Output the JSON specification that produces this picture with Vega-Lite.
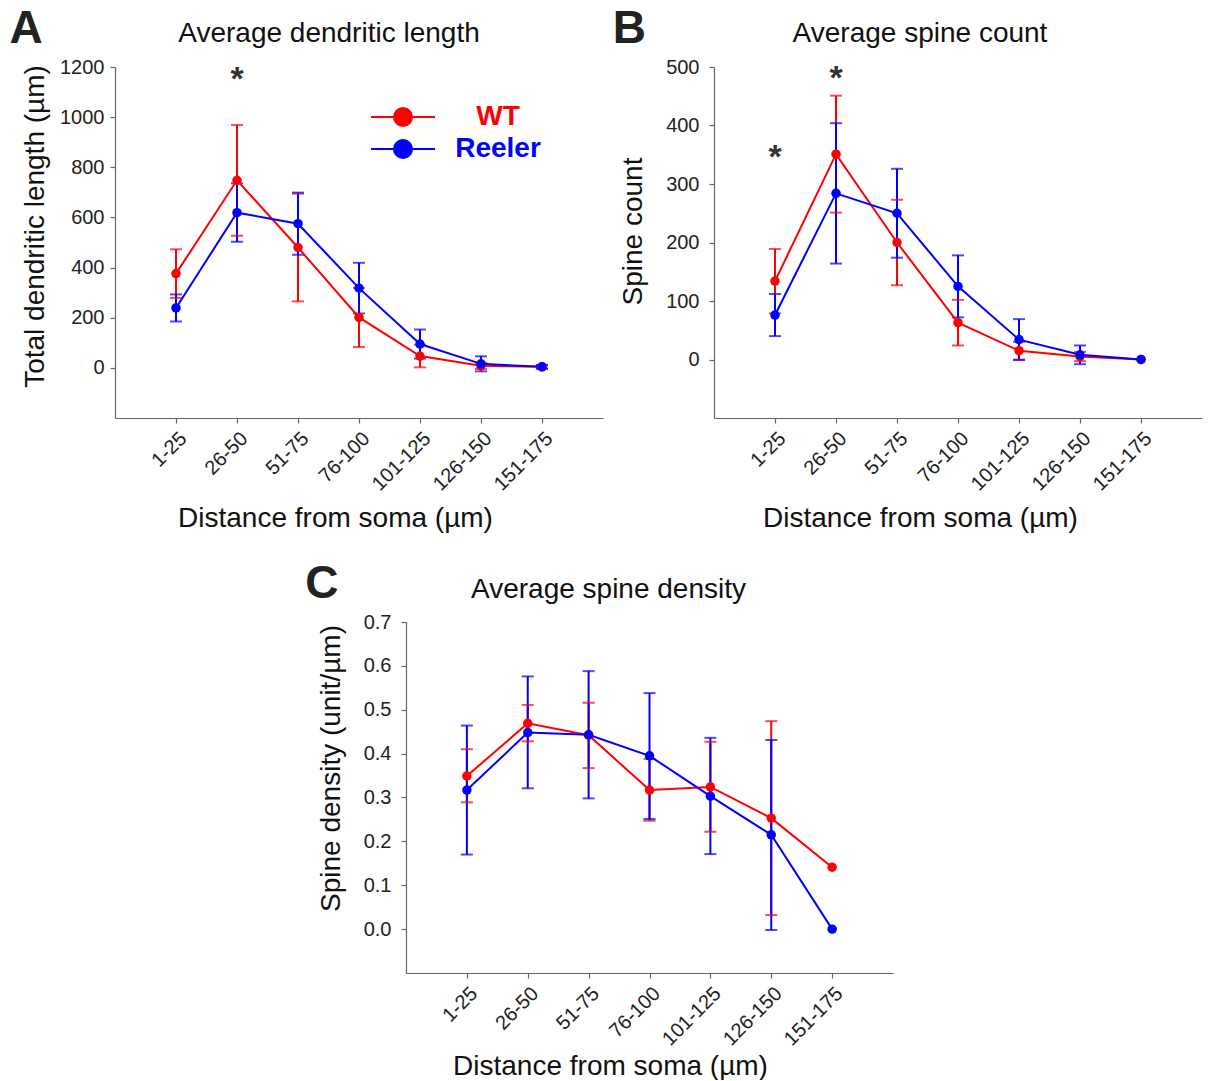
{
  "$schema": "https://vega.github.io/schema/vega-lite/v6.json",
  "background": "white",
  "padding": {"left": 9, "top": 6, "right": 5, "bottom": 0},
  "config": {
    "font": "Liberation Sans",
    "view": {"stroke": null},
    "axis": {
      "grid": false,
      "domainColor": "#666",
      "tickColor": "#666",
      "domainWidth": 1.2,
      "tickWidth": 1.2,
      "tickSize": 5,
      "labelColor": "#222",
      "labelFontSize": 20,
      "labelPadding": 10,
      "titleColor": "#111",
      "titleFontSize": 28,
      "titleFontWeight": "normal"
    },
    "axisX": {"labelAngle": -45, "labelPadding": 5, "titleBaseline": "alphabetic"},
    "title": {"fontSize": 28, "fontWeight": "normal", "color": "#111"},
    "legend": {
      "orient": "none",
      "legendX": 274,
      "legendY": 36,
      "padding": 0,
      "symbolType": "M-3.2,0H3.2M-0.9,0A0.9,0.9,0,1,1,0.9,0A0.9,0.9,0,1,1,-0.9,0Z",
      "symbolSize": 400,
      "symbolStrokeWidth": 2,
      "symbolOpacity": 1,
      "labelFontSize": 28,
      "labelFontWeight": "bold",
      "labelColor": {"expr": "datum.value === 'WT' ? '#ff0000' : '#0000ff'"},
      "labelAlign": "center",
      "labelOffset": 81,
      "rowPadding": 4
    }
  },
  "datasets": {
    "length": [
      {"bin": "1-25", "group": "WT", "mean": 376, "lo": 279, "hi": 473},
      {"bin": "26-50", "group": "WT", "mean": 748, "lo": 527, "hi": 969},
      {"bin": "51-75", "group": "WT", "mean": 480, "lo": 265, "hi": 695},
      {"bin": "76-100", "group": "WT", "mean": 201, "lo": 83, "hi": 319},
      {"bin": "101-125", "group": "WT", "mean": 47, "lo": 2, "hi": 92},
      {"bin": "126-150", "group": "WT", "mean": 8, "lo": -4, "hi": 20},
      {"bin": "151-175", "group": "WT", "mean": 4, "lo": -2, "hi": 10},
      {"bin": "1-25", "group": "Reeler", "mean": 239, "lo": 185, "hi": 293},
      {"bin": "26-50", "group": "Reeler", "mean": 619, "lo": 503, "hi": 736},
      {"bin": "51-75", "group": "Reeler", "mean": 575, "lo": 451, "hi": 699},
      {"bin": "76-100", "group": "Reeler", "mean": 318, "lo": 217, "hi": 419},
      {"bin": "101-125", "group": "Reeler", "mean": 95, "lo": 37, "hi": 153},
      {"bin": "126-150", "group": "Reeler", "mean": 16, "lo": -14, "hi": 46},
      {"bin": "151-175", "group": "Reeler", "mean": 4, "lo": -4, "hi": 12}
    ],
    "lengthSig": [
      {"bin": "26-50", "y": 1150, "label": "*"}
    ],
    "count": [
      {"bin": "1-25", "group": "WT", "mean": 134, "lo": 79, "hi": 189},
      {"bin": "26-50", "group": "WT", "mean": 351, "lo": 251, "hi": 451},
      {"bin": "51-75", "group": "WT", "mean": 200, "lo": 127, "hi": 273},
      {"bin": "76-100", "group": "WT", "mean": 63, "lo": 24, "hi": 102},
      {"bin": "101-125", "group": "WT", "mean": 15, "lo": 0, "hi": 30},
      {"bin": "126-150", "group": "WT", "mean": 5, "lo": -3, "hi": 13},
      {"bin": "151-175", "group": "WT", "mean": 0, "lo": null, "hi": null},
      {"bin": "1-25", "group": "Reeler", "mean": 76, "lo": 40, "hi": 112},
      {"bin": "26-50", "group": "Reeler", "mean": 284, "lo": 164, "hi": 404},
      {"bin": "51-75", "group": "Reeler", "mean": 250, "lo": 174, "hi": 326},
      {"bin": "76-100", "group": "Reeler", "mean": 125, "lo": 72, "hi": 178},
      {"bin": "101-125", "group": "Reeler", "mean": 34, "lo": -1, "hi": 69},
      {"bin": "126-150", "group": "Reeler", "mean": 8, "lo": -8, "hi": 24},
      {"bin": "151-175", "group": "Reeler", "mean": 0, "lo": null, "hi": null}
    ],
    "countSig": [
      {"bin": "1-25", "y": 345, "label": "*"},
      {"bin": "26-50", "y": 480, "label": "*"}
    ],
    "density": [
      {"bin": "1-25", "group": "WT", "mean": 0.349, "lo": 0.289, "hi": 0.41},
      {"bin": "26-50", "group": "WT", "mean": 0.469, "lo": 0.428, "hi": 0.511},
      {"bin": "51-75", "group": "WT", "mean": 0.442, "lo": 0.367, "hi": 0.516},
      {"bin": "76-100", "group": "WT", "mean": 0.317, "lo": 0.247, "hi": 0.388},
      {"bin": "101-125", "group": "WT", "mean": 0.324, "lo": 0.222, "hi": 0.427},
      {"bin": "126-150", "group": "WT", "mean": 0.253, "lo": 0.032, "hi": 0.474},
      {"bin": "151-175", "group": "WT", "mean": 0.141, "lo": null, "hi": null},
      {"bin": "1-25", "group": "Reeler", "mean": 0.317, "lo": 0.17, "hi": 0.464},
      {"bin": "26-50", "group": "Reeler", "mean": 0.448, "lo": 0.321, "hi": 0.576},
      {"bin": "51-75", "group": "Reeler", "mean": 0.443, "lo": 0.298, "hi": 0.588},
      {"bin": "76-100", "group": "Reeler", "mean": 0.395, "lo": 0.251, "hi": 0.538},
      {"bin": "101-125", "group": "Reeler", "mean": 0.303, "lo": 0.171, "hi": 0.436},
      {"bin": "126-150", "group": "Reeler", "mean": 0.215, "lo": -0.002, "hi": 0.431},
      {"bin": "151-175", "group": "Reeler", "mean": 0.0, "lo": null, "hi": null}
    ]
  },
  "vconcat": [
    {
      "hconcat": [
        {
          "title": {"text": "A", "anchor": "start", "fontSize": 46, "fontWeight": "bold", "color": "#222", "dx": -12, "offset": -33},
          "vconcat": [
            {
              "width": 488,
              "height": 351,
              "title": {"text": "Average dendritic length", "frame": "group", "anchor": "middle", "dx": -30, "offset": 9},
              "data": {"name": "length"},
              "encoding": {
                "x": {
                  "field": "bin", "type": "ordinal",
                  "scale": {"type": "point", "padding": 1, "domain": ["1-25", "26-50", "51-75", "76-100", "101-125", "126-150", "151-175"]},
                  "axis": {"title": "Distance from soma (µm)", "titleX": 220, "titleY": 108}
                }
              },
              "layer": [
                {
                  "mark": {"type": "rule", "strokeWidth": 2},
                  "encoding": {
                    "y": {"field": "lo", "type": "quantitative", "scale": {"domain": [-200, 1200], "nice": false},
                      "axis": {"title": "Total dendritic length (µm)", "values": [0, 200, 400, 600, 800, 1000, 1200], "format": "d", "labelPadding": 6, "titlePadding": 10, "titleY": 159}},
                    "y2": {"field": "hi"},
                    "color": {"field": "group", "type": "nominal", "scale": {"domain": ["WT", "Reeler"], "range": ["#ff0000", "#0000ff"]}, "legend": {"title": null}}
                  }
                },
                {
                  "mark": {"type": "tick", "orient": "horizontal", "size": 12, "thickness": 2},
                  "encoding": {
                    "y": {"field": "lo", "type": "quantitative"},
                    "color": {"field": "group", "type": "nominal"}
                  }
                },
                {
                  "mark": {"type": "tick", "orient": "horizontal", "size": 12, "thickness": 2},
                  "encoding": {
                    "y": {"field": "hi", "type": "quantitative"},
                    "color": {"field": "group", "type": "nominal"}
                  }
                },
                {
                  "mark": {"type": "line", "strokeWidth": 2},
                  "encoding": {
                    "y": {"field": "mean", "type": "quantitative"},
                    "color": {"field": "group", "type": "nominal"}
                  }
                },
                {
                  "mark": {"type": "point", "filled": true, "opacity": 1, "size": 90},
                  "encoding": {
                    "y": {"field": "mean", "type": "quantitative"},
                    "color": {"field": "group", "type": "nominal"}
                  }
                },
                {
                  "data": {"name": "lengthSig"},
                  "mark": {"type": "text", "fontSize": 34, "fontWeight": "bold", "color": "#333", "baseline": "alphabetic", "dy": 10},
                  "encoding": {
                    "y": {"field": "y", "type": "quantitative"},
                    "text": {"field": "label"}
                  }
                }
              ]
            }
          ]
        },
        {
          "title": {"text": "B", "anchor": "start", "fontSize": 46, "fontWeight": "bold", "color": "#222", "dx": -7, "offset": -33},
          "vconcat": [
            {
              "width": 488,
              "height": 351,
              "title": {"text": "Average spine count", "frame": "group", "anchor": "middle", "dx": -38, "offset": 9},
              "data": {"name": "count"},
              "encoding": {
                "x": {
                  "field": "bin", "type": "ordinal",
                  "scale": {"type": "point", "padding": 1, "domain": ["1-25", "26-50", "51-75", "76-100", "101-125", "126-150", "151-175"]},
                  "axis": {"title": "Distance from soma (µm)", "titleX": 206, "titleY": 108}
                }
              },
              "layer": [
                {
                  "mark": {"type": "rule", "strokeWidth": 2},
                  "encoding": {
                    "y": {"field": "lo", "type": "quantitative", "scale": {"domain": [-100, 500], "nice": false},
                      "axis": {"title": "Spine count", "values": [0, 100, 200, 300, 400, 500], "format": "d", "titlePadding": 18, "titleY": 164}},
                    "y2": {"field": "hi"},
                    "color": {"field": "group", "type": "nominal", "legend": {"title": null}}
                  }
                },
                {
                  "mark": {"type": "tick", "orient": "horizontal", "size": 12, "thickness": 2},
                  "encoding": {
                    "y": {"field": "lo", "type": "quantitative"},
                    "color": {"field": "group", "type": "nominal"}
                  }
                },
                {
                  "mark": {"type": "tick", "orient": "horizontal", "size": 12, "thickness": 2},
                  "encoding": {
                    "y": {"field": "hi", "type": "quantitative"},
                    "color": {"field": "group", "type": "nominal"}
                  }
                },
                {
                  "mark": {"type": "line", "strokeWidth": 2},
                  "encoding": {
                    "y": {"field": "mean", "type": "quantitative"},
                    "color": {"field": "group", "type": "nominal"}
                  }
                },
                {
                  "mark": {"type": "point", "filled": true, "opacity": 1, "size": 90},
                  "encoding": {
                    "y": {"field": "mean", "type": "quantitative"},
                    "color": {"field": "group", "type": "nominal"}
                  }
                },
                {
                  "data": {"name": "countSig"},
                  "mark": {"type": "text", "fontSize": 34, "fontWeight": "bold", "color": "#333", "baseline": "alphabetic", "dy": 10},
                  "encoding": {
                    "y": {"field": "y", "type": "quantitative"},
                    "text": {"field": "label"}
                  }
                }
              ]
            }
          ]
        }
      ],
      "spacing": 9
    },
    {
      "hconcat": [
        {
          "width": 190,
          "height": 1,
          "data": {"values": []},
          "mark": {"type": "point"}
        },
        {
          "title": {"text": "C", "anchor": "start", "fontSize": 46, "fontWeight": "bold", "color": "#222", "dx": -12, "offset": -32},
          "vconcat": [
            {
              "width": 487,
              "height": 351,
              "title": {"text": "Average spine density", "frame": "group", "anchor": "middle", "dx": -41, "offset": 8},
              "data": {"name": "density"},
              "encoding": {
                "x": {
                  "field": "bin", "type": "ordinal",
                  "scale": {"type": "point", "padding": 1, "domain": ["1-25", "26-50", "51-75", "76-100", "101-125", "126-150", "151-175"]},
                  "axis": {"title": "Distance from soma (µm)", "titleX": 204, "titleY": 101}
                }
              },
              "layer": [
                {
                  "mark": {"type": "rule", "strokeWidth": 2},
                  "encoding": {
                    "y": {"field": "lo", "type": "quantitative", "scale": {"domain": [-0.1, 0.7], "nice": false},
                      "axis": {"title": "Spine density (unit/µm)", "values": [0, 0.1, 0.2, 0.3, 0.4, 0.5, 0.6, 0.7], "format": ".1f", "titlePadding": 18, "titleY": 146}},
                    "y2": {"field": "hi"},
                    "color": {"field": "group", "type": "nominal", "legend": {"title": null}}
                  }
                },
                {
                  "mark": {"type": "tick", "orient": "horizontal", "size": 12, "thickness": 2},
                  "encoding": {
                    "y": {"field": "lo", "type": "quantitative"},
                    "color": {"field": "group", "type": "nominal"}
                  }
                },
                {
                  "mark": {"type": "tick", "orient": "horizontal", "size": 12, "thickness": 2},
                  "encoding": {
                    "y": {"field": "hi", "type": "quantitative"},
                    "color": {"field": "group", "type": "nominal"}
                  }
                },
                {
                  "mark": {"type": "line", "strokeWidth": 2},
                  "encoding": {
                    "y": {"field": "mean", "type": "quantitative"},
                    "color": {"field": "group", "type": "nominal"}
                  }
                },
                {
                  "mark": {"type": "point", "filled": true, "opacity": 1, "size": 90},
                  "encoding": {
                    "y": {"field": "mean", "type": "quantitative"},
                    "color": {"field": "group", "type": "nominal"}
                  }
                }
              ]
            }
          ]
        }
      ],
      "spacing": 0
    }
  ],
  "spacing": 29
}
